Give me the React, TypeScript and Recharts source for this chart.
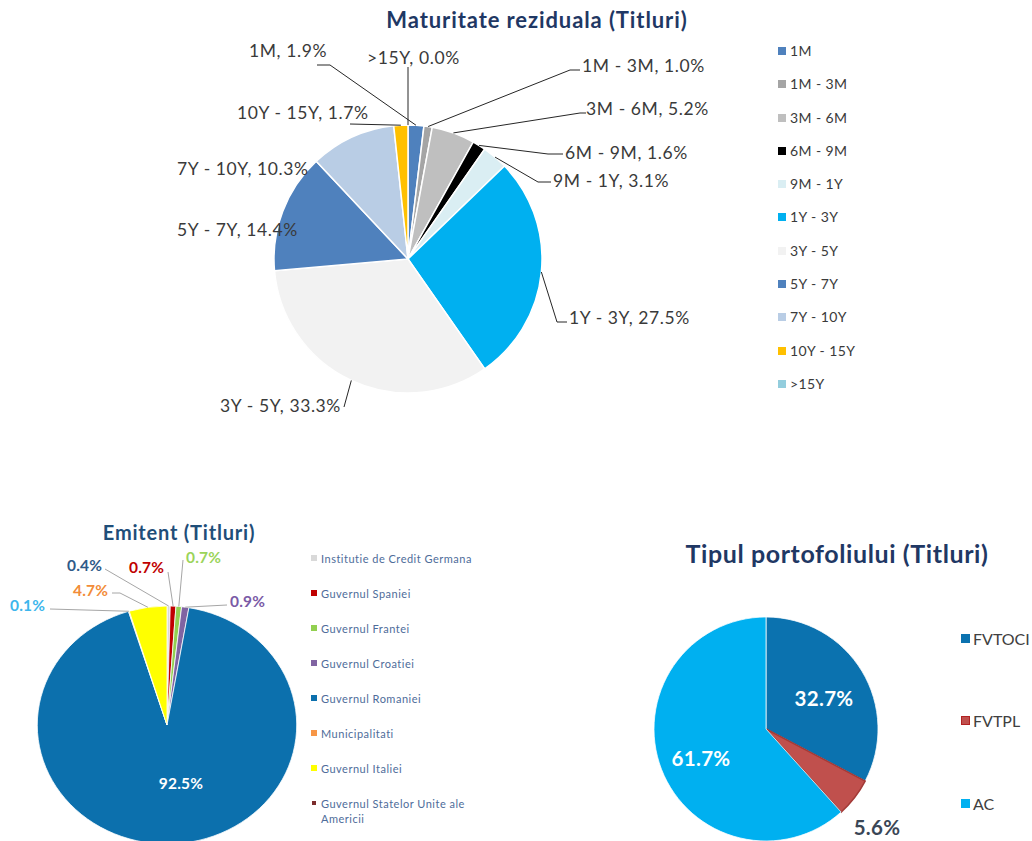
import React from 'react';
import { PieChart, Pie, Cell, Legend, Sector } from 'recharts';

// ---------- DATA ----------
const maturityNames = ['1M', '1M - 3M', '3M - 6M', '6M - 9M', '9M - 1Y', '1Y - 3Y', '3Y - 5Y', '5Y - 7Y', '7Y - 10Y', '10Y - 15Y', '>15Y'];
const maturityValues = [1.9, 1.0, 5.2, 1.6, 3.1, 27.5, 33.3, 14.4, 10.3, 1.7, 0.0];
const maturityColors = ['#4F81BD', '#A5A5A5', '#BFBFBF', '#000000', '#DAEEF3', '#00B0F0', '#F2F2F2', '#4F81BD', '#B9CDE5', '#FFC000', '#93CDDD'];

const issuerNames = ['Institutie de Credit Germana', 'Guvernul Spaniei', 'Guvernul Frantei', 'Guvernul Croatiei', 'Guvernul Romaniei', 'Municipalitati', 'Guvernul Italiei', 'Guvernul Statelor Unite ale Americii'];
const issuerValues = [0.4, 0.7, 0.7, 0.9, 92.5, 0.1, 4.7, 0.0];
const issuerColors = ['#D9D9D9', '#C00000', '#92D050', '#8064A2', '#0C70AD', '#F79646', '#FFFF00', '#7B2C2C'];
const issuerLabelColors = ['#2E5A88', '#C00000', '#9BD45A', '#7A5AA6', '#FFFFFF', '#3DB6EC', '#F28C38', '#7B2C2C'];

const portfolioNames = ['FVTOCI', 'FVTPL', 'AC'];
const portfolioValues = [32.7, 5.6, 61.7];
const portfolioColors = ['#0B72AF', '#C0504D', '#00B0F0'];
const portfolioStrokes = ['#FFFFFF', '#A33A37', '#FFFFFF'];
const portfolioLabelColors = ['#FFFFFF', '#3A4656', '#FFFFFF'];

const maturityData = maturityNames.map((name, i) => ({ name, value: maturityValues[i] }));
const issuerData = issuerNames.map((name, i) => ({ name, value: issuerValues[i] }));
const portfolioData = portfolioNames.map((name, i) => ({ name, value: portfolioValues[i] }));

// ---------- LABEL LAYOUT (text placement, chart coordinates) ----------
type LabelLayout = { x: number; y: number; anchor: 'start' | 'middle' | 'end'; leader: number[][] } | null;

const maturityLabelLayout: LabelLayout[] = [
  { x: 249, y: 50, anchor: 'start', leader: [[317, 65], [330, 65]] },
  { x: 582, y: 65, anchor: 'start', leader: [[580, 70], [570, 70]] },
  { x: 586, y: 108, anchor: 'start', leader: [[586, 113], [580, 113]] },
  { x: 565, y: 152, anchor: 'start', leader: [[563, 154], [548, 154]] },
  { x: 553, y: 180, anchor: 'start', leader: [[551, 182], [538, 182]] },
  { x: 569, y: 317, anchor: 'start', leader: [[567, 322], [557, 322]] },
  { x: 341, y: 405, anchor: 'end', leader: [[344, 407]] },
  { x: 177, y: 229, anchor: 'start', leader: [] },
  { x: 177, y: 168, anchor: 'start', leader: [] },
  { x: 237, y: 112, anchor: 'start', leader: [[350, 124]] },
  { x: 367, y: 57, anchor: 'start', leader: [[408, 67]] },
];

const issuerLabelLayout: LabelLayout[] = [
  { x: 67, y: 65, anchor: 'start', leader: [[105, 69]] },
  { x: 129, y: 67, anchor: 'start', leader: [[168, 72]] },
  { x: 186, y: 57, anchor: 'start', leader: [[183, 60]] },
  { x: 230, y: 101, anchor: 'start', leader: [[227, 105]] },
  { x: 181, y: 283, anchor: 'middle', leader: [] },
  { x: 10, y: 105, anchor: 'start', leader: [[50, 109]] },
  { x: 73, y: 90, anchor: 'start', leader: [[112, 93], [120, 93]] },
  null,
];

const portfolioLabelLayout: LabelLayout[] = [
  { x: 204, y: 178, anchor: 'middle', leader: [] },
  { x: 257, y: 307, anchor: 'middle', leader: [] },
  { x: 81, y: 238, anchor: 'middle', leader: [] },
];

const FONT = 'Lato, "Open Sans", sans-serif';
const RAD = Math.PI / 180;
const ISSUER_STRETCH_X = 1.09;

function makeLabel(
  layout: LabelLayout[],
  textFor: (p: any) => string,
  colorFor: (i: number) => string,
  fontSize: number,
  fontWeight: number,
  letterSpacing: number,
  leaderColor: string,
  stretchX = 1,
) {
  return (p: any) => {
    const l = layout[p.index];
    if (!l) return null;
    const ax = p.cx + stretchX * p.outerRadius * Math.cos(-p.midAngle * RAD);
    const ay = p.cy + p.outerRadius * Math.sin(-p.midAngle * RAD);
    const pts = l.leader.length ? [...l.leader, [ax, ay]] : [];
    return (
      <g key={`lbl-${p.index}`}>
        {pts.length > 0 && (
          <polyline points={pts.map((q) => q.join(',')).join(' ')} fill="none" stroke={leaderColor} strokeWidth={1} />
        )}
        <text
          x={l.x}
          y={l.y}
          textAnchor={l.anchor}
          dominantBaseline="central"
          fill={colorFor(p.index)}
          fontSize={fontSize}
          fontWeight={fontWeight}
          fontFamily={FONT}
          letterSpacing={letterSpacing}
        >
          {textFor(p)}
        </text>
      </g>
    );
  };
}

const maturityLabel = makeLabel(
  maturityLabelLayout,
  (p) => `${maturityNames[p.index]}, ${maturityValues[p.index].toFixed(1)}%`,
  () => '#3A3A3A',
  17.5,
  400,
  0.6,
  '#262626',
);
const issuerLabel = makeLabel(
  issuerLabelLayout,
  (p) => `${issuerValues[p.index].toFixed(1)}%`,
  (i) => issuerLabelColors[i],
  15.5,
  700,
  0.2,
  '#A6A6A6',
  ISSUER_STRETCH_X,
);
const portfolioLabel = makeLabel(
  portfolioLabelLayout,
  (p) => `${portfolioValues[p.index].toFixed(1)}%`,
  (i) => portfolioLabelColors[i],
  20.5,
  700,
  0.3,
  '#404040',
);

// stretched sector (the original emitent pie is slightly wider than tall)
const StretchedSector = (props: any) => {
  const { cx, cy } = props;
  return (
    <g transform={`translate(${cx},${cy}) scale(${ISSUER_STRETCH_X},1) translate(${-cx},${-cy})`}>
      <Sector {...props} />
    </g>
  );
};

function ListLegend(props: {
  names: string[];
  colors: string[];
  itemHeight: number;
  fontSize: number;
  color: string;
  square: number[];
  textWidth: number;
  lineHeight: number;
  letterSpacing: number;
}) {
  return (
    <div style={{ fontFamily: FONT }}>
      {props.names.map((n, i) => {
        const s = props.square[i] ?? props.square[0];
        const pad = (props.square[0] - s) / 2;
        return (
          <div key={n} style={{ display: 'flex', alignItems: 'flex-start', height: props.itemHeight }}>
            <div
              style={{
                width: s,
                height: s,
                background: props.colors[i],
                marginTop: (props.lineHeight - s) / 2,
                marginLeft: pad,
                marginRight: 4 + pad,
                flex: 'none',
              }}
            />
            <div
              style={{
                fontSize: props.fontSize,
                lineHeight: `${props.lineHeight}px`,
                color: props.color,
                width: props.textWidth,
                letterSpacing: props.letterSpacing,
              }}
            >
              {n}
            </div>
          </div>
        );
      })}
    </div>
  );
}

const titleStyle = (left: number, top: number, width: number, size: number, color: string, ls: number): React.CSSProperties => ({
  position: 'absolute',
  left,
  top,
  width,
  textAlign: 'center',
  fontFamily: FONT,
  fontWeight: 700,
  fontSize: size,
  color,
  lineHeight: `${size + 4}px`,
  whiteSpace: 'nowrap',
  letterSpacing: ls,
});

const NO_MARGIN = { top: 0, right: 0, bottom: 0, left: 0 };

export default function App() {
  return (
    <div style={{ position: 'absolute', left: 0, top: 0, width: 1032, height: 841, background: '#fff', overflow: 'hidden' }}>
      {/* Chart 1 */}
      <div style={{ position: 'absolute', left: 0, top: 0 }}>
        <PieChart width={1032} height={440} margin={NO_MARGIN}>
          <Pie
            data={maturityData}
            dataKey="value"
            nameKey="name"
            cx={408}
            cy={259}
            outerRadius={134}
            startAngle={90}
            endAngle={-270}
            stroke="#FFFFFF"
            strokeWidth={1.5}
            label={maturityLabel}
            labelLine={false}
            isAnimationActive={false}
          >
            {maturityData.map((d, i) => (
              <Cell key={d.name} fill={maturityColors[i]} />
            ))}
          </Pie>
          <Legend
            content={() => (
              <ListLegend
                names={maturityNames}
                colors={maturityColors}
                itemHeight={33.3}
                fontSize={14}
                color="#3A3A3A"
                square={[8]}
                textWidth={120}
                lineHeight={16}
                letterSpacing={0.4}
              />
            )}
            wrapperStyle={{ position: 'absolute', left: 778, top: 43, width: 160, bottom: 'auto', right: 'auto' }}
          />
        </PieChart>
      </div>
      <div style={titleStyle(287, 7, 500, 22, '#1F3864', 0.9)}>Maturitate reziduala (Titluri)</div>

      {/* Chart 2 */}
      <div style={{ position: 'absolute', left: 0, top: 500 }}>
        <PieChart width={520} height={341} margin={NO_MARGIN}>
          <Pie
            data={issuerData}
            dataKey="value"
            nameKey="name"
            cx={167}
            cy={225}
            outerRadius={119}
            startAngle={90}
            endAngle={-270}
            stroke="#FFFFFF"
            strokeWidth={0.75}
            shape={StretchedSector}
            label={issuerLabel}
            labelLine={false}
            isAnimationActive={false}
          >
            {issuerData.map((d, i) => (
              <Cell key={d.name} fill={issuerColors[i]} />
            ))}
          </Pie>
          <Legend
            content={() => (
              <ListLegend
                names={issuerNames}
                colors={issuerColors}
                itemHeight={35}
                fontSize={11}
                color="#4E6C9A"
                square={[6, 6, 6, 6, 6, 6, 6, 4]}
                textWidth={170}
                lineHeight={15}
                letterSpacing={0.5}
              />
            )}
            wrapperStyle={{ position: 'absolute', left: 311, top: 50.5, width: 200, bottom: 'auto', right: 'auto' }}
          />
        </PieChart>
      </div>
      <div style={titleStyle(79, 520, 200, 20, '#1F4E79', 0.8)}>Emitent (Titluri)</div>

      {/* Chart 3 */}
      <div style={{ position: 'absolute', left: 620, top: 520 }}>
        <PieChart width={412} height={321} margin={NO_MARGIN}>
          <Pie
            data={portfolioData}
            dataKey="value"
            nameKey="name"
            cx={146}
            cy={209}
            outerRadius={112}
            startAngle={90}
            endAngle={-270}
            label={portfolioLabel}
            labelLine={false}
            isAnimationActive={false}
          >
            {portfolioData.map((d, i) => (
              <Cell key={d.name} fill={portfolioColors[i]} stroke={portfolioStrokes[i]} strokeWidth={i === 1 ? 1.5 : 0.75} />
            ))}
          </Pie>
          <Legend
            content={() => (
              <div style={{ fontFamily: FONT }}>
                {portfolioNames.map((n, i) => (
                  <div key={n} style={{ display: 'flex', alignItems: 'center', height: 82.5 }}>
                    <div
                      style={{
                        width: 9,
                        height: 9,
                        background: portfolioColors[i],
                        boxSizing: 'border-box',
                        border: i === 1 ? '1.5px solid #B22222' : 'none',
                        marginRight: 3,
                      }}
                    />
                    <span style={{ fontSize: 16, color: '#404040' }}>{n}</span>
                  </div>
                ))}
              </div>
            )}
            wrapperStyle={{ position: 'absolute', left: 341, top: 77, width: 120, bottom: 'auto', right: 'auto' }}
          />
        </PieChart>
      </div>
      <div style={titleStyle(587, 539, 500, 25, '#1F3864', 0.6)}>Tipul portofoliului (Titluri)</div>
    </div>
  );
}
